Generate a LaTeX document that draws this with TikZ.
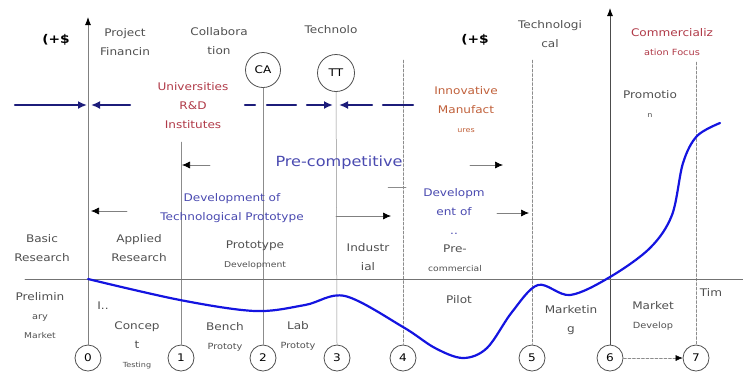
\documentclass[tikz,border=0pt]{standalone}
\usepackage{fontspec}
\setmainfont{DejaVu Sans}[FakeStretch=1.15]
\usetikzlibrary{arrows.meta}
\definecolor{navyline}{HTML}{1C1C7A}
\definecolor{curveblue}{HTML}{1414E0}
\definecolor{penred}{HTML}{B03A48}
\definecolor{penorange}{HTML}{C0603A}
\definecolor{penblue}{HTML}{4A4AB0}
\definecolor{pengray}{HTML}{505050}
\begin{document}
\begin{tikzpicture}[x=1pt,y=-1pt,line cap=round,line join=round,
 font=\fontsize{10.5}{19}\selectfont,
 lbl/.style={align=center,text=pengray,inner sep=0pt},
 redlbl/.style={lbl,text=penred},
 orangelbl/.style={lbl,text=penorange},
 bluelbl/.style={lbl,text=penblue},
 stage/.style={circle,draw=pengray,line width=.8pt,minimum size=26pt,
  inner sep=0pt,text=black},
 guide/.style={draw=black!45,line width=.5pt},
 dguide/.style={guide,dash pattern=on 3pt off 1.5pt},
 axis/.style={draw=black!70,line width=.9pt},
 flow/.style={black!50,line width=.7pt,
  -{Latex[color=black,length=8pt,width=7pt]}},
 phase/.style={navyline,line width=2.4pt}]
 \useasboundingbox (0,0) rectangle (743,376);
 % stage circles along the time line
 \foreach \num/\xpos in {0/88,1/181,2/263,3/337,4/403,5/532,6/610,7/696}
  \node[stage] (s\num) at (\xpos,358) {\num};
 \node[stage,minimum size=35pt] (ca) at (263,70) {CA};
 \node[stage,minimum size=37pt] (tt) at (336,73) {TT};
 \coordinate (g1) at (181,142);
 \coordinate (g4) at (403,60);
 \coordinate (g5) at (532,60);
 \coordinate (g7) at (696,62);
 \coordinate (top0) at (88,17);
 \coordinate (top6) at (610,8);
 \coordinate (xleft) at (25,279);
 \coordinate (xright) at (743,279);
 \draw[guide] (g1) -- (s1.north);
 \draw[guide] (ca) -- (s2.north);
 \draw[guide] (tt) -- (s3.north);
 \foreach \num in {4,5,7}
  \draw[dguide] (g\num) -- (s\num.north);
 \draw[axis,draw=black!50,-{Latex[color=black,length=8pt,width=6pt]}]
  (s0.north) -- (top0);
 \draw[axis,-{Latex[color=black,length=8pt,width=6pt]}] (s6.north) -- (top6);
 \draw[axis,draw=black!55] (xleft) -- (xright);
 \draw[dguide,-{Latex[color=black,length=7pt,width=6pt]}] (s6) -- (s7);
 % phase line
 \draw[phase,-{Latex[length=9pt,width=8pt]}] (15,105) -- (87,105);
 \draw[phase,-{Latex[length=9pt,width=8pt]}] (130,105) -- (91,105);
 \foreach \xa/\xb in {245/255,267/296,383/413}
  \draw[phase] (\xa,105) -- (\xb,105);
 \draw[phase,-{Latex[length=9pt,width=8pt]}] (307,105) -- (333,105);
 \draw[phase,-{Latex[length=9pt,width=8pt]}] (372,105) -- (339,105);
 % thin arrows
 \foreach \xa/\xb/\yy in {210/182/165,470/503/165,127/91/211,336/391/216,
  497/529/213}
  \draw[flow] (\xa,\yy) -- (\xb,\yy);
 \draw[guide] (388,187) -- (406,187);
 % value curve
 \draw[curveblue,line width=2.2pt] plot[smooth,tension=.55] coordinates {
  (88,279) (180,300) (255,311) (305,305) (345,296) (403,327) (435,348)
  (463,358) (487,348) (512,312) (538,285) (570,295) (610,277) (650,248)
  (672,215) (683,163) (697,136) (720,123)};
 % labels above the time line
 \node[lbl,text=black,font=\fontsize{12}{14}\selectfont\bfseries]
  (cash1) at (56,40) {(+\$};
 \node[lbl,text=black,font=\fontsize{12}{14}\selectfont\bfseries]
  (cash2) at (475,40) {(+\$};
 \node[lbl] (fin) at (125,42) {Project\\Financin};
 \node[lbl] (collab) at (219,41) {Collabora\\tion};
 \node[lbl] (tech) at (331,30) {Technolo};
 \node[lbl] (techl) at (550,34) {Technologi\\cal};
 \node[redlbl] (comm) at (672,42)
  {Commercializ\\{\fontsize{8.5}{10}\selectfont ation Focus}};
 \node[redlbl] (univ) at (193,106) {Universities\\R\&D\\Institutes};
 \node[orangelbl] (innov) at (466,110)
  {Innovative\\Manufact\\{\fontsize{7}{8}\selectfont ures}};
 \node[lbl] (promo) at (650,104) {Promotio\\{\fontsize{7}{8}\selectfont n}};
 \node[bluelbl,font=\fontsize{14}{16}\selectfont] (precomp) at (339,163)
  {Pre-competitive};
 \node[bluelbl] (devproto) at (232,208)
  {Development of\\Technological Prototype};
 \node[bluelbl] (devpre) at (454,212) {Developm\\ent of\\..};
 \node[lbl] (basic) at (42,248) {Basic\\Research};
 \node[lbl] (applied) at (139,248) {Applied\\Research};
 \node[lbl] (proto) at (255,255)
  {Prototype\\{\fontsize{8}{10}\selectfont Development}};
 \node[lbl] (indus) at (368,257) {Industr\\ial};
 \node[lbl] (precom) at (455,258)
  {Pre-\\{\fontsize{8}{10}\selectfont commercial}};
 % labels below the time line
 \node[lbl] (prelim) at (40,316)
  {Prelimin\\{\fontsize{8.5}{19}\selectfont ary}\\
   {\fontsize{8}{10}\selectfont Market}};
 \node[lbl] (idea) at (103,306) {I..};
 \node[lbl] (concept) at (137,345)
  {Concep\\t\\{\fontsize{7}{8}\selectfont Testing}};
 \node[lbl] (bench) at (225,337)
  {Bench\\{\fontsize{8.5}{10}\selectfont Prototy}};
 \node[lbl] (lab) at (298,336) {Lab\\{\fontsize{8.5}{10}\selectfont Prototy}};
 \node[lbl] (pilot) at (459,300) {Pilot};
 \node[lbl] (mkt) at (571,320) {Marketin\\g};
 \node[lbl] (mktdev) at (653,316)
  {Market\\{\fontsize{8.5}{10}\selectfont Develop}};
 \node[lbl] (time) at (711,293) {Tim};
\end{tikzpicture}
\end{document}
